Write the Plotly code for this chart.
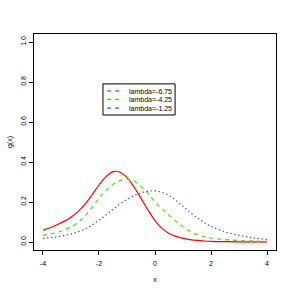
import plotly.graph_objects as go

x_vals = [-4, -3.75, -3.5, -3.25, -3, -2.75, -2.5, -2.25, -2, -1.75, -1.5, -1.25, -1, -0.75,
          -0.5, -0.25, 0, 0.25, 0.5, 0.75, 1, 1.25, 1.5, 1.75, 2, 2.5, 3, 3.5, 4]
g_red = [0.058, 0.071, 0.086, 0.103, 0.124, 0.152, 0.188, 0.235, 0.285, 0.327, 0.352, 0.349, 0.322, 0.275,
         0.218, 0.160, 0.107, 0.068, 0.043, 0.028, 0.018, 0.012, 0.008, 0.005, 0.003, 0.0015, 0.0008, 0.0005, 0.0003]
g_green = [0.033, 0.040, 0.048, 0.059, 0.075, 0.098, 0.130, 0.172, 0.218, 0.257, 0.288, 0.307, 0.314, 0.305,
           0.278, 0.243, 0.200, 0.166, 0.134, 0.103, 0.075, 0.053, 0.037, 0.027, 0.020, 0.012, 0.0075, 0.0045, 0.003]
g_blue = [0.018, 0.022, 0.026, 0.032, 0.040, 0.051, 0.065, 0.085, 0.109, 0.135, 0.163, 0.190, 0.213, 0.232,
          0.246, 0.254, 0.256, 0.248, 0.232, 0.207, 0.178, 0.149, 0.121, 0.098, 0.078, 0.051, 0.033, 0.021, 0.012]
labels = ["lambda=-6.75", "lambda=-4.25", "lambda=-1.25"]
x_ticks = [-4, -2, 0, 2, 4]
x_tick_text = ["-4", "-2", "0", "2", "4"]
y_ticks = [0.0, 0.2, 0.4, 0.6, 0.8, 1.0]
y_tick_text = ["0.0", "0.2", "0.4", "0.6", "0.8", "1.0"]

colors = ["#ff0000", "#44e010", "#3355ff"]
dashes = ["solid", "4px,4px", "1.5px,2.5px"]
series = [g_red, g_green, g_blue]

fig = go.Figure()
for ys, c, d in zip(series, colors, dashes):
    fig.add_trace(go.Scatter(x=x_vals, y=ys, mode="lines", showlegend=False,
                             line=dict(color=c, width=1.2, dash=d, shape="spline", smoothing=1)))

fnt = dict(family="Liberation Sans, Arial, sans-serif", size=7, color="black")

# manual legend (paper coordinates)
lx0, lx1, ly0, ly1 = 0.285, 0.583, 0.625, 0.769
fig.add_shape(type="rect", xref="paper", yref="paper", x0=lx0, x1=lx1, y0=ly0, y1=ly1,
              line=dict(color="black", width=1), fillcolor="white", layer="above")
row_y = [0.736, 0.697, 0.657]
for lab, c, ry in zip(labels, colors, row_y):
    fig.add_shape(type="line", xref="paper", yref="paper", x0=0.302, x1=0.362, y0=ry, y1=ry,
                  line=dict(color=c, width=1.2, dash="4px,4px"), layer="above")
    fig.add_annotation(xref="paper", yref="paper", x=0.384, y=ry, text=lab, showarrow=False,
                       xanchor="left", yanchor="middle", font=fnt)

fig.update_layout(
    width=294, height=294,
    margin=dict(l=34, r=18, t=34, b=44),
    paper_bgcolor="white", plot_bgcolor="white",
    font=fnt, showlegend=False,
    xaxis=dict(range=[-4.32, 4.32], tickvals=x_ticks, ticktext=x_tick_text, ticks="outside", ticklen=4,
               tickwidth=1, tickcolor="black", showline=True, linecolor="black",
               linewidth=1, mirror=True, showgrid=False, zeroline=False, automargin=False,
               ticklabelstandoff=3,
               title=dict(text="x", font=fnt, standoff=10)),
    yaxis=dict(range=[-0.04, 1.04], tickvals=y_ticks, ticktext=y_tick_text,
               ticks="outside", ticklen=4, tickwidth=1, tickcolor="black",
               tickangle=-90, showline=True, linecolor="black", linewidth=1,
               mirror=True, showgrid=False, zeroline=False, automargin=False,
               title=dict(text="g(x)", font=fnt, standoff=6)),
)
fig.write_html("out.html", config={"displayModeBar": False})
with open("out.html", "r", encoding="utf-8") as f:
    html = f.read()
html = html.replace("<head>", "<head><style>html,body{margin:0;padding:0;}</style>", 1)
with open("out.html", "w", encoding="utf-8") as f:
    f.write(html)
